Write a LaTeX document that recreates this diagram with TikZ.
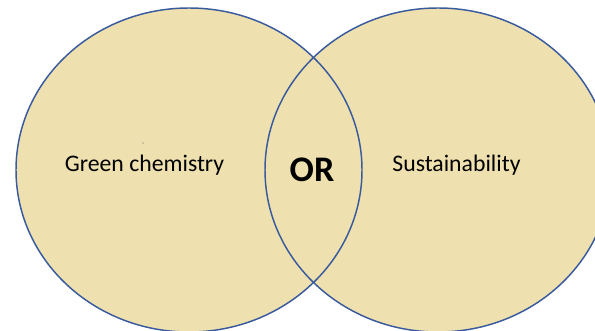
\documentclass[tikz,border=0pt]{standalone}
\usepackage{fontspec}
\setmainfont{Carlito}
\definecolor{vennfill}{RGB}{238,225,175}
\definecolor{vennline}{RGB}{58,90,158}
\tikzset{every picture/.style={line width=1.1pt}}
\tikzset{vennset/.style={fill=vennfill}, vennedge/.style={draw=vennline}}

\begin{document}
\begin{tikzpicture}[x=0.75pt,y=0.75pt,yscale=-1,xscale=1]
\useasboundingbox (0,0) rectangle (595,331);
\clip (0,0) rectangle (595,331);

% fills first, outlines on top
\fill [vennset] (189,170) ellipse (173 and 162);
\fill [vennset] (438,170) ellipse (173 and 162);
\draw [vennedge] (189,170) ellipse (173 and 162);
\draw [vennedge] (438,170) ellipse (173 and 162);

\fill [black!60] (143,143) circle (0.6);

\draw (144.5,172) node (green) [anchor=base][inner sep=0.75pt] [font=\fontsize{17.8}{20}\selectfont] {Green chemistry};
\draw (456.5,172) node (sust) [anchor=base][inner sep=0.75pt] [font=\fontsize{17.8}{20}\selectfont] {Sustainability};
\draw (312,182) node (or) [anchor=base][inner sep=0.75pt] [font=\fontsize{27}{30}\selectfont\bfseries] {OR};

\end{tikzpicture}
\end{document}
